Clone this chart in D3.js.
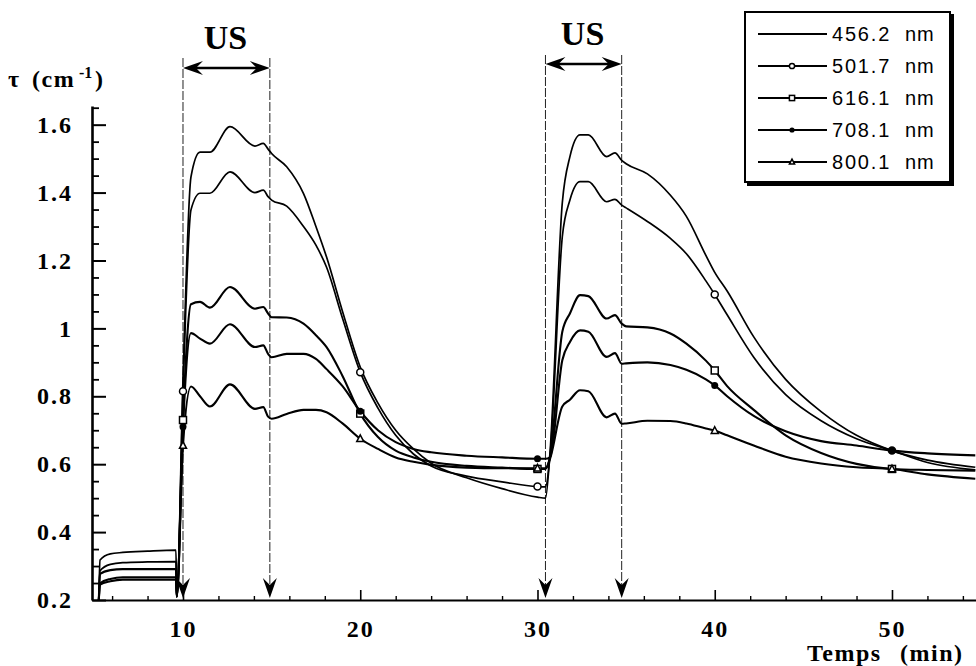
<!DOCTYPE html>
<html>
<head>
<meta charset="utf-8">
<script src="https://cdn.jsdelivr.net/npm/d3@7"></script>
<style>
  html, body { margin: 0; padding: 0; background: #fff; }
  svg { display: block; }
  .serif { font-family: "Liberation Serif", "Times New Roman", serif; font-weight: bold; }
  .sans { font-family: "Liberation Sans", Arial, Helvetica, sans-serif; }
</style>
</head>
<body>
<script>
// ---------------- DATA ----------------
const times = [5.25, 5.32, 5.9, 6.6, 8, 9.6, 9.65, 10, 10.45, 10.96, 11.52, 12.65, 14.06, 14.53, 14.8, 15,
  15.85, 16.8, 17.5, 18.1, 19, 20, 21, 22, 23, 24, 26, 28, 30, 30.45, 30.7, 31.4, 31.83, 32.4, 32.87,
  33.9, 34.37, 34.75, 35, 36.2, 37.5, 38.4, 39.5, 40, 40.7, 42.2, 44, 46, 48, 50, 52, 54.7];

const tau456 = [0.20, 0.318, 0.336, 0.340, 0.344, 0.347, 0.21, 0.85, 1.446, 1.519, 1.519, 1.594, 1.537, 1.545, 1.528, 1.515,
  1.476, 1.397, 1.30, 1.21, 1.05, 0.886, 0.78, 0.70, 0.645, 0.603, 0.56, 0.528, 0.503, 0.50, 0.63, 1.37, 1.506, 1.57, 1.57,
  1.506, 1.517, 1.495, 1.485, 1.455, 1.392, 1.33, 1.215, 1.165, 1.11, 0.975, 0.85, 0.755, 0.685, 0.64, 0.612, 0.591];

const tau501 = [0.20, 0.286, 0.305, 0.310, 0.312, 0.313, 0.21, 0.815, 1.349, 1.398, 1.398, 1.461, 1.40, 1.407, 1.388, 1.378,
  1.36, 1.30, 1.245, 1.18, 1.03, 0.871, 0.765, 0.685, 0.63, 0.595, 0.565, 0.548, 0.534, 0.533, 0.62, 1.27, 1.378, 1.432, 1.432,
  1.373, 1.38, 1.363, 1.355, 1.315, 1.265, 1.22, 1.14, 1.10, 1.04, 0.915, 0.805, 0.728, 0.675, 0.64, 0.605, 0.583];

const tau616 = [0.20, 0.277, 0.288, 0.291, 0.291, 0.291, 0.21, 0.73, 1.071, 1.078, 1.061, 1.122, 1.058, 1.063, 1.044, 1.033,
  1.032, 1.014, 0.98, 0.945, 0.86, 0.749, 0.68, 0.64, 0.62, 0.607, 0.595, 0.59, 0.586, 0.586, 0.62, 0.99, 1.044, 1.098, 1.095,
  1.029, 1.039, 1.014, 1.006, 1.003, 0.985, 0.955, 0.905, 0.876, 0.83, 0.76, 0.685, 0.633, 0.601, 0.586, 0.583, 0.581];

const tau708 = [0.20, 0.249, 0.262, 0.267, 0.267, 0.267, 0.21, 0.71, 0.986, 0.97, 0.955, 1.012, 0.945, 0.95, 0.925, 0.915,
  0.925, 0.925, 0.91, 0.88, 0.83, 0.756, 0.70, 0.665, 0.645, 0.635, 0.625, 0.62, 0.616, 0.616, 0.62, 0.906, 0.96, 0.994, 0.99,
  0.916, 0.927, 0.896, 0.897, 0.90, 0.892, 0.878, 0.85, 0.832, 0.80, 0.742, 0.697, 0.668, 0.655, 0.64, 0.632, 0.626];

const tau800 = [0.20, 0.245, 0.255, 0.26, 0.26, 0.26, 0.21, 0.655, 0.829, 0.80, 0.770, 0.835, 0.763, 0.768, 0.74, 0.734,
  0.748, 0.76, 0.76, 0.753, 0.72, 0.675, 0.645, 0.62, 0.607, 0.598, 0.59, 0.588, 0.588, 0.588, 0.615, 0.77, 0.79, 0.818, 0.815,
  0.738, 0.749, 0.719, 0.72, 0.728, 0.727, 0.72, 0.705, 0.699, 0.685, 0.655, 0.622, 0.602, 0.591, 0.586, 0.57, 0.557];

const seriesLabels = ["456.2", "501.7", "616.1", "708.1", "800.1"];
const seriesMarkers = ["none", "circle", "square", "dot", "triangle"];
const markerTimes = [10, 20, 30, 40, 50];

const usLines = [10, 14.9, 30.45, 34.75];          // vertical lines (min)
const usIntervals = [[10, 14.9], [30.45, 34.75]];   // ultrasound periods

const xMajorTicks = [10, 20, 30, 40, 50];
const xMinorTicks = [6, 8, 12, 14, 16, 18, 22, 24, 26, 28, 32, 34, 36, 38, 42, 44, 46, 48, 52, 54];
const yMajorTicks = [0.2, 0.4, 0.6, 0.8, 1.0, 1.2, 1.4, 1.6];
const yMinorTicks = [0.25, 0.3, 0.35, 0.45, 0.5, 0.55, 0.65, 0.7, 0.75, 0.85, 0.9, 0.95, 1.05, 1.1, 1.15,
  1.25, 1.3, 1.35, 1.45, 1.5, 1.55, 1.65];
const yTickLabels = ["0.2", "0.4", "0.6", "0.8", "1", "1.2", "1.4", "1.6"];

// ---------------- DRAW ----------------
const W = 976, H = 666;
const svg = d3.select("body").append("svg").attr("width", W).attr("height", H);

const x = d3.scaleLinear().domain([4.866, 54.74]).range([92, 976]);
const y = d3.scaleLinear().domain([0.2, 1.655]).range([600, 106]);

const series = [tau456, tau501, tau616, tau708, tau800].map((vals, i) => ({
  label: seriesLabels[i], marker: seriesMarkers[i],
  pts: times.map((t, j) => ({ t, v: vals[j] }))
}));

// Axes
const gx = svg.append("g").attr("transform", "translate(0,600)");
gx.call(d3.axisBottom(x).tickValues(xMajorTicks).tickSizeInner(-10).tickSizeOuter(0).tickPadding(20)
  .tickFormat(d3.format("d")));
gx.select(".domain").attr("stroke", "#000").attr("stroke-width", 2.2);
gx.selectAll(".tick line").attr("stroke", "#000").attr("stroke-width", 1.6);
gx.selectAll(".tick text").attr("class", "serif").attr("font-size", 24).attr("fill", "#000")
  .style("letter-spacing", "2px");

const gxm = svg.append("g").attr("transform", "translate(0,600)");
gxm.call(d3.axisBottom(x).tickValues(xMinorTicks).tickSizeInner(-4).tickSizeOuter(0).tickFormat(""));
gxm.select(".domain").remove();
gxm.selectAll(".tick line").attr("stroke", "#000").attr("stroke-width", 1.4);

const gy = svg.append("g").attr("transform", "translate(92,0)");
gy.call(d3.axisLeft(y).tickValues(yMajorTicks).tickSizeInner(-14).tickSizeOuter(0).tickPadding(19)
  .tickFormat((d, i) => yTickLabels[i]));
gy.select(".domain").attr("stroke", "#000").attr("stroke-width", 2.6);
gy.selectAll(".tick line").attr("stroke", "#000").attr("stroke-width", 2);
gy.selectAll(".tick text").attr("class", "serif").attr("font-size", 24).attr("fill", "#000")
  .style("letter-spacing", "2px");

const gym = svg.append("g").attr("transform", "translate(92,0)");
gym.call(d3.axisLeft(y).tickValues(yMinorTicks).tickSizeInner(-7).tickSizeOuter(0).tickFormat(""));
gym.select(".domain").remove();
gym.selectAll(".tick line").attr("stroke", "#000").attr("stroke-width", 1.8);

// Axis titles
const yt = svg.append("text").attr("class", "serif").attr("x", 8).attr("y", 87).attr("font-size", 24).attr("fill", "#000")
  .style("letter-spacing", "1.5px");
yt.append("tspan").text("τ");
yt.append("tspan").attr("x", 32).text("(cm");
yt.append("tspan").attr("x", 79).attr("dy", -9).attr("font-size", 16).style("letter-spacing", "0px").text("-1");
yt.append("tspan").attr("dy", 9).attr("x", 95).text(")");

const xt = svg.append("text").attr("class", "serif").attr("x", 807).attr("y", 661).attr("font-size", 24)
  .attr("fill", "#000").style("letter-spacing", "1.5px");
xt.append("tspan").text("Temps");
xt.append("tspan").attr("x", 900).text("(min)");

// US vertical dashed lines and arrows
const arrowDown = (cx, tip) => `M${cx},${tip} L${cx - 7},${tip - 20} L${cx},${tip - 13} L${cx + 7},${tip - 20} Z`;
usLines.forEach((m, i) => {
  const top = i < 2 ? 58 : 55;
  svg.append("line").attr("x1", x(m)).attr("x2", x(m)).attr("y1", top).attr("y2", 588)
    .attr("stroke", "#222").attr("stroke-width", 1).attr("stroke-dasharray", "9,2");
  svg.append("path").attr("d", arrowDown(x(m), 598)).attr("fill", "#000");
});

usIntervals.forEach(([a, b], i) => {
  const yy = i === 0 ? 68 : 64;
  const xa = x(a), xb = x(b);
  svg.append("line").attr("x1", xa + 6).attr("x2", xb - 6).attr("y1", yy).attr("y2", yy)
    .attr("stroke", "#000").attr("stroke-width", 2.6);
  svg.append("path").attr("d", `M${xa},${yy} L${xa + 20},${yy - 7} L${xa + 13},${yy} L${xa + 20},${yy + 7} Z`).attr("fill", "#000");
  svg.append("path").attr("d", `M${xb},${yy} L${xb - 20},${yy - 7} L${xb - 13},${yy} L${xb - 20},${yy + 7} Z`).attr("fill", "#000");
  svg.append("text").attr("class", "serif").attr("x", (xa + xb) / 2 - 1).attr("y", i === 0 ? 49 : 45)
    .attr("text-anchor", "middle").attr("font-size", 34).attr("fill", "#000").text("US");
});

// Curves
const line = d3.line().x(d => x(d.t)).y(d => y(d.v)).curve(d3.curveMonotoneX);
series.forEach((s, i) => {
  svg.append("path").datum(s.pts).attr("d", line).attr("fill", "none")
    .attr("stroke", "#000").attr("stroke-width", i < 2 ? 1.7 : 2.1).attr("stroke-linejoin", "round");
});

function drawMarker(g, type, cx, cy, r) {
  if (type === "circle") {
    g.append("circle").attr("cx", cx).attr("cy", cy).attr("r", r).attr("fill", "#fff").attr("stroke", "#000").attr("stroke-width", 1.5);
  } else if (type === "square") {
    g.append("rect").attr("x", cx - r).attr("y", cy - r).attr("width", 2 * r).attr("height", 2 * r)
      .attr("fill", "#fff").attr("stroke", "#000").attr("stroke-width", 1.5);
  } else if (type === "dot") {
    g.append("circle").attr("cx", cx).attr("cy", cy).attr("r", r).attr("fill", "#000");
  } else if (type === "triangle") {
    g.append("path").attr("d", `M${cx},${cy - r * 1.1} L${cx + r},${cy + r * 0.8} L${cx - r},${cy + r * 0.8} Z`)
      .attr("fill", "#fff").attr("stroke", "#000").attr("stroke-width", 1.5);
  }
}

const gm = svg.append("g");
series.forEach(s => {
  if (s.marker === "none") return;
  markerTimes.forEach(m => {
    const p = s.pts.find(d => d.t === m);
    if (p) drawMarker(gm, s.marker, x(p.t), y(p.v), 3.5);
  });
});

// Legend
const lg = svg.append("g");
lg.append("rect").attr("x", 747).attr("y", 14).attr("width", 207).attr("height", 172).attr("fill", "#000");
lg.append("rect").attr("x", 745).attr("y", 12).attr("width", 205).attr("height", 170)
  .attr("fill", "#fff").attr("stroke", "#000").attr("stroke-width", 2);
seriesLabels.forEach((lab, i) => {
  const yy = 34 + i * 32;
  lg.append("line").attr("x1", 758).attr("x2", 827).attr("y1", yy).attr("y2", yy).attr("stroke", "#000").attr("stroke-width", 2);
  drawMarker(lg, seriesMarkers[i], 792, yy, 2.6);
  lg.append("text").attr("class", "sans").attr("x", 832).attr("y", yy + 7).attr("font-size", 20)
    .style("letter-spacing", "1.8px").attr("fill", "#000").text(lab);
  lg.append("text").attr("class", "sans").attr("x", 905).attr("y", yy + 7).attr("font-size", 20)
    .style("letter-spacing", "1px").attr("fill", "#000").text("nm");
});
</script>
</body>
</html>
